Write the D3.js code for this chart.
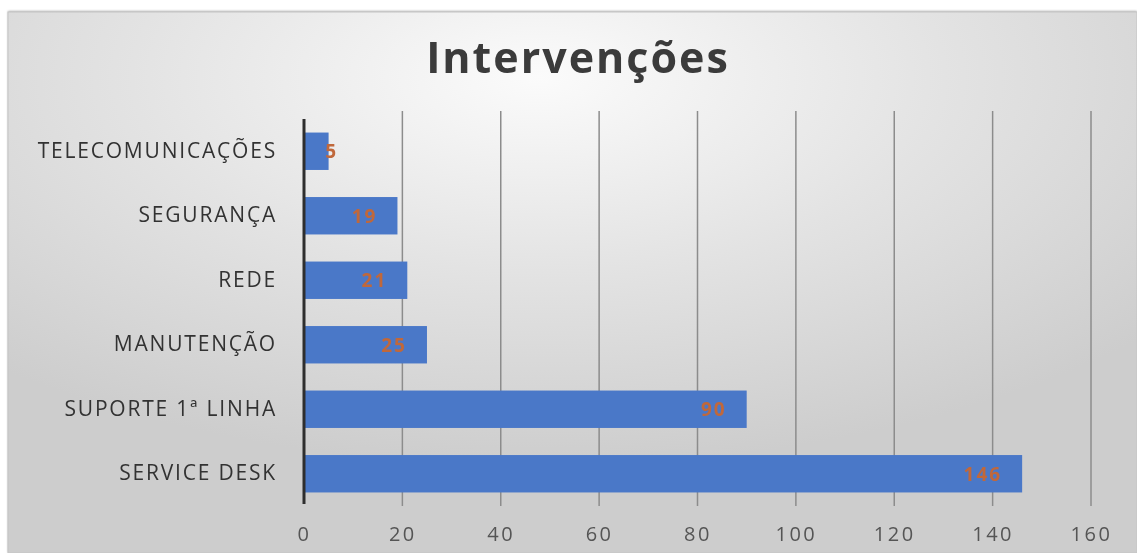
<!DOCTYPE html>
<html>
<head>
<meta charset="utf-8">
<script src="https://cdn.jsdelivr.net/npm/d3@7/dist/d3.min.js"></script>
<style>
  html, body { margin: 0; padding: 0; background: #ffffff; }
  svg { display: block; }
</style>
</head>
<body>
<svg id="chart" width="1137" height="553"></svg>
<script>
const categories = ["TELECOMUNICAÇÕES", "SEGURANÇA", "REDE", "MANUTENÇÃO", "SUPORTE 1ª LINHA", "SERVICE DESK"];
const values = [5, 19, 21, 25, 90, 146];
const tickValues = [0, 20, 40, 60, 80, 100, 120, 140, 160];
const title = "Intervenções";

const W = 1137, H = 553;
const svg = d3.select("#chart");
const defs = svg.append("defs");

const grad = defs.append("radialGradient")
  .attr("id", "bg").attr("cx", "0.47").attr("cy", "0.12").attr("r", "0.72");
grad.append("stop").attr("offset", "0").attr("stop-color", "#fbfbfb");
grad.append("stop").attr("offset", "0.5").attr("stop-color", "#e3e3e3");
grad.append("stop").attr("offset", "1").attr("stop-color", "#cdcdcd");

const blur = defs.append("filter").attr("id", "soft").attr("x", "-10%").attr("y", "-30%").attr("width", "120%").attr("height", "160%");
blur.append("feGaussianBlur").attr("stdDeviation", "0.6");

const shadow = defs.append("filter").attr("id", "shadow");
shadow.append("feGaussianBlur").attr("stdDeviation", "1.2");

// chart frame
svg.append("rect").attr("x", 8).attr("y", 11).attr("width", W - 8).attr("height", H - 11)
  .attr("fill", "#b0b0b0").attr("filter", "url(#shadow)");
svg.append("rect").attr("x", 8).attr("y", 12).attr("width", W - 8).attr("height", H - 12)
  .attr("fill", "url(#bg)").attr("stroke", "#c4c4c4").attr("stroke-width", 1);

const x0 = 304, x1 = 1091;
const yTop = 119, yBot = 506;

const x = d3.scaleLinear().domain([0, 160]).range([x0, x1]);
const y = d3.scaleBand().domain(categories).range([yTop, yBot])
  .paddingInner(0.42).paddingOuter(0.21);

// gridlines
svg.append("g").selectAll("line").data(tickValues.filter(d => d > 0)).join("line")
  .attr("x1", d => x(d)).attr("x2", d => x(d))
  .attr("y1", 111).attr("y2", yBot)
  .attr("stroke", "#8c8c8c").attr("stroke-width", 1.5);

// bars
svg.append("g").selectAll("rect").data(values).join("rect")
  .attr("x", x(0))
  .attr("y", (d, i) => y(categories[i]))
  .attr("width", d => x(d) - x(0))
  .attr("height", y.bandwidth())
  .attr("fill", "#4a78c8");

// value labels
svg.append("g").selectAll("text").data(values).join("text")
  .attr("x", d => Math.max(x(d) - 20, x(0) + 34))
  .attr("y", (d, i) => y(categories[i]) + y.bandwidth() / 2)
  .attr("dy", "0.36em")
  .attr("text-anchor", "end")
  .attr("font-family", "'Open Sans', sans-serif")
  .attr("font-weight", "bold")
  .attr("font-size", 19)
  .attr("letter-spacing", 2)
  .attr("fill", "#c0673a")
  .attr("filter", "url(#soft)")
  .text(d => d);

// vertical axis line
svg.append("line").attr("x1", x(0)).attr("x2", x(0)).attr("y1", yTop).attr("y2", yBot - 2)
  .attr("stroke", "#2e2e2e").attr("stroke-width", 3);

// category labels
const yAxis = d3.axisLeft(y).tickSize(0).tickPadding(27);
const ga = svg.append("g").attr("transform", `translate(${x0},0)`).call(yAxis);
ga.select(".domain").remove();
ga.selectAll("text")
  .attr("font-family", "'Open Sans', sans-serif")
  .attr("font-size", 21)
  .attr("letter-spacing", 1.8)
  .attr("fill", "#333333")
  .attr("filter", "url(#soft)");

// x tick labels
const xAxis = d3.axisBottom(x).tickValues(tickValues).tickSize(0).tickPadding(0);
const gx = svg.append("g").attr("transform", `translate(0,${yBot})`).call(xAxis);
gx.select(".domain").remove();
gx.selectAll("text")
  .attr("y", 28)
  .attr("dy", "0.36em")
  .attr("font-family", "'Open Sans', sans-serif")
  .attr("font-size", 20)
  .attr("letter-spacing", 2.5)
  .attr("fill", "#555555")
  .attr("filter", "url(#soft)");

// title
svg.append("text")
  .attr("x", 578).attr("y", 73)
  .attr("text-anchor", "middle")
  .attr("font-family", "'Open Sans', sans-serif")
  .attr("font-weight", "bold")
  .attr("font-size", 43)
  .attr("letter-spacing", 2)
  .attr("fill", "#3a3a3a")
  .attr("filter", "url(#soft)")
  .text(title);
</script>
</body>
</html>
